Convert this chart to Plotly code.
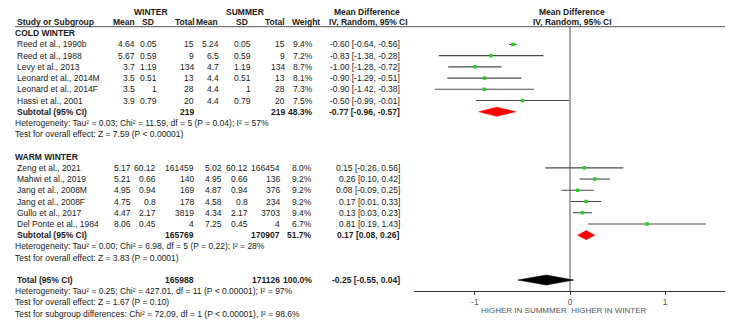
import plotly.graph_objects as go

# ---------------- DATA ----------------
cold_studies = ["Reed et al., 1990b", "Reed et al., 1988", "Levy et al., 2013",
                "Leonard et al., 2014M", "Leonard et al., 2014F", "Hassi et al., 2001"]
cold_w_mean = [4.64, 5.67, 3.7, 3.5, 3.5, 3.9]
cold_w_sd = [0.05, 0.59, 1.19, 0.51, 1, 0.79]
cold_w_n = [15, 9, 134, 13, 28, 20]
cold_s_mean = [5.24, 6.5, 4.7, 4.4, 4.4, 4.4]
cold_s_sd = [0.05, 0.59, 1.19, 0.51, 1, 0.79]
cold_s_n = [15, 9, 134, 13, 28, 20]
cold_weight = [9.4, 7.2, 8.7, 8.1, 7.3, 7.5]
cold_md = [-0.60, -0.83, -1.00, -0.90, -0.90, -0.50]
cold_lo = [-0.64, -1.38, -1.28, -1.29, -1.42, -0.99]
cold_hi = [-0.56, -0.28, -0.72, -0.51, -0.38, -0.01]
cold_sub = dict(wn=219, sn=219, weight=48.3, md=-0.77, lo=-0.96, hi=-0.57)
cold_het = "Heterogeneity: Tau² = 0.03; Chi² = 11.59, df = 5 (P = 0.04); I² = 57%"
cold_test = "Test for overall effect: Z = 7.59 (P < 0.00001)"

warm_studies = ["Zeng et al., 2021", "Mahwi et al., 2019", "Jang et al., 2008M",
                "Jang et al., 2008F", "Gullo et al., 2017", "Del Ponte et al., 1984"]
warm_w_mean = [5.17, 5.21, 4.95, 4.75, 4.47, 8.06]
warm_w_sd = [60.12, 0.66, 0.94, 0.8, 2.17, 0.45]
warm_w_n = [161459, 140, 169, 178, 3819, 4]
warm_s_mean = [5.02, 4.95, 4.87, 4.58, 4.34, 7.25]
warm_s_sd = [60.12, 0.66, 0.94, 0.8, 2.17, 0.45]
warm_s_n = [166454, 136, 376, 234, 3703, 4]
warm_weight = [8.0, 9.2, 9.2, 9.2, 9.4, 6.7]
warm_md = [0.15, 0.26, 0.08, 0.17, 0.13, 0.81]
warm_lo = [-0.26, 0.10, -0.09, 0.01, 0.03, 0.19]
warm_hi = [0.56, 0.42, 0.25, 0.33, 0.23, 1.43]
warm_sub = dict(wn=165769, sn=170907, weight=51.7, md=0.17, lo=0.08, hi=0.26)
warm_het = "Heterogeneity: Tau² = 0.00; Chi² = 6.98, df = 5 (P = 0.22); I² = 28%"
warm_test = "Test for overall effect: Z = 3.83 (P = 0.0001)"

total = dict(wn=165988, sn=171126, weight=100.0, md=-0.25, lo=-0.55, hi=0.04)
total_lines = ["Heterogeneity: Tau² = 0.25; Chi² = 427.01, df = 11 (P < 0.00001); I² = 97%",
               "Test for overall effect: Z = 1.67 (P = 0.10)",
               "Test for subgroup differences: Chi² = 72.09, df = 1 (P < 0.00001), I² = 98.6%"]

tick_vals = [-1, 0, 1]
tick_text = ["-1", "0", "1"]
axis_label = "HIGHER IN SUMMMER  HIGHER IN WINTER"

# ---------------- LAYOUT HELPERS ----------------
W, H = 733, 332
OFF = 8                            # page body margin of the html page
ROW0, ROWH = 33.2 - OFF, 11.22     # figure pixel y of row 0 and row height
FONT = "Liberation Sans, Arial, sans-serif"
FS = 8.5
TXT = "#1a1a1a"

def px(x):
    return (x - OFF) / W

COLD_COLS = dict(wm=136, wsd=158, wn=195, sm=220, ssd=252, sn=286, weight=314, ci=401)
WARM_COLS = dict(wm=132, wsd=157, wn=195, sm=223, ssd=249, sn=281, weight=313, ci=401)

annotations = []

def txt(x, row, s, anchor="left", bold=False, color=TXT, size=FS):
    annotations.append(dict(
        x=px(x), y=row, xref="paper", yref="y",
        text=f"<b>{s}</b>" if bold else s, showarrow=False,
        xanchor=anchor, yanchor="middle", borderpad=0,
        font=dict(family=FONT, size=size, color=color)))

def fmt_ci(md, lo, hi):
    return f"{md:.2f} [{lo:.2f}, {hi:.2f}]"

# headers
HDR1, HDR2, HLINE = -1.93, -0.96, -0.58
txt(151, HDR1, "WINTER", "center", True)
txt(245, HDR1, "SUMMER", "center", True)
txt(367, HDR1, "Mean Difference", "center", True)
txt(572, HDR1, "Mean Difference", "center", True)
txt(16, HDR2, "Study or Subgroup", "left", True)
txt(136, HDR2, "Mean", "right", True)
txt(155, HDR2, "SD", "right", True)
txt(196, HDR2, "Total", "right", True)
txt(219, HDR2, "Mean", "right", True)
txt(249, HDR2, "SD", "right", True)
txt(286, HDR2, "Total", "right", True)
txt(321, HDR2, "Weight", "right", True)
txt(368, HDR2, "IV, Random, 95% CI", "center", True)
txt(572, HDR2, "IV, Random, 95% CI", "center", True)

traces = []
study_x, study_y = [], []

def diamond(d, r, color, h):
    traces.append(go.Scatter(
        x=[d["lo"], d["md"], d["hi"], d["md"], d["lo"]],
        y=[r, r - h, r, r + h, r], mode="lines", fill="toself",
        fillcolor=color, line=dict(color=color, width=0.5),
        hoverinfo="skip", showlegend=False))

def group(start, title, studies, wm, wsd, wn, sm, ssd, sn, wt, md, lo, hi, sub, het, test, cols, color):
    txt(14, start, title, "left", True)
    for i, name in enumerate(studies):
        r = start + 1 + i
        txt(16, r, name)
        txt(cols["wm"], r, f"{wm[i]:g}", "right")
        txt(cols["wsd"], r, f"{wsd[i]:g}", "right")
        txt(cols["wn"], r, f"{wn[i]:g}", "right")
        txt(cols["sm"], r, f"{sm[i]:g}", "right")
        txt(cols["ssd"], r, f"{ssd[i]:g}", "right")
        txt(cols["sn"], r, f"{sn[i]:g}", "right")
        txt(cols["weight"], r, f"{wt[i]:.1f}%", "right")
        txt(cols["ci"], r, fmt_ci(md[i], lo[i], hi[i]), "right")
        traces.append(go.Scatter(x=[lo[i], hi[i]], y=[r, r], mode="lines",
                                 line=dict(color="#4a4a4a", width=1.1),
                                 hoverinfo="skip", showlegend=False))
        study_x.append(md[i]); study_y.append(r)
    rs = start + 1 + len(studies)
    txt(16, rs, "Subtotal (95% CI)", "left", True)
    txt(cols["wn"], rs, f"{sub['wn']}", "right", True)
    txt(cols["sn"], rs, f"{sub['sn']}", "right", True)
    txt(cols["weight"], rs, f"{sub['weight']:.1f}%", "right", True)
    txt(cols["ci"], rs, fmt_ci(sub["md"], sub["lo"], sub["hi"]), "right", True)
    diamond(sub, rs, color, 0.41)
    txt(14, rs + 1, het)
    txt(14, rs + 2, test)

group(0, "COLD WINTER", cold_studies, cold_w_mean, cold_w_sd, cold_w_n, cold_s_mean,
      cold_s_sd, cold_s_n, cold_weight, cold_md, cold_lo, cold_hi, cold_sub,
      cold_het, cold_test, COLD_COLS, "#ff0000")
group(11, "WARM WINTER", warm_studies, warm_w_mean, warm_w_sd, warm_w_n, warm_s_mean,
      warm_s_sd, warm_s_n, warm_weight, warm_md, warm_lo, warm_hi, warm_sub,
      warm_het, warm_test, WARM_COLS, "#ff0000")

RT = 22
txt(16, RT, "Total (95% CI)", "left", True)
txt(WARM_COLS["wn"], RT, f"{total['wn']}", "right", True)
txt(WARM_COLS["sn"], RT, f"{total['sn']}", "right", True)
txt(WARM_COLS["weight"], RT, f"{total['weight']:.1f}%", "right", True)
txt(WARM_COLS["ci"], RT, fmt_ci(total["md"], total["lo"], total["hi"]), "right", True)
diamond(total, RT, "#000000", 0.45)
for k, s in enumerate(total_lines):
    txt(14, RT + 1 + k, s)

AXROW = 23
traces.insert(0, go.Scatter(x=[0, 0], y=[HLINE, AXROW], mode="lines",
                            line=dict(color="#555555", width=1),
                            hoverinfo="skip", showlegend=False))
traces.append(go.Scatter(x=study_x, y=study_y, mode="markers",
                         marker=dict(symbol="square", size=3.5, color="#1ed41e",
                                     line=dict(width=0)),
                         hoverinfo="skip", showlegend=False))

annotations.append(dict(x=px(564), y=AXROW + 1.75, xref="paper", yref="y",
                        text=axis_label, showarrow=False, xanchor="center",
                        yanchor="middle", font=dict(family=FONT, size=8, color="#555555")))

fig = go.Figure(traces)
y_top = (0 - ROW0) / ROWH
y_bot = (H - ROW0) / ROWH
ax_pos = 1 - (ROW0 + ROWH * AXROW) / H

fig.update_layout(
    width=W, height=H, margin=dict(l=0, r=0, t=0, b=0),
    paper_bgcolor="white", plot_bgcolor="white",
    annotations=annotations,
    shapes=[dict(type="line", xref="paper", yref="y", x0=px(15), x1=px(727),
                 y0=HLINE, y1=HLINE, line=dict(color="#555555", width=1))],
    xaxis=dict(domain=[px(414), px(726)], range=[-1.64, 1.64], anchor="free",
               position=ax_pos, showline=True, linecolor="#333333", linewidth=1,
               ticks="outside", ticklen=3, tickcolor="#333333",
               tickvals=tick_vals, ticktext=tick_text, showgrid=False, zeroline=False,
               tickfont=dict(family=FONT, size=8.5, color="#555555"), fixedrange=True),
    yaxis=dict(domain=[0, 1], range=[y_bot, y_top], visible=False, fixedrange=True),
    showlegend=False,
)

fig.write_html("out.html")
